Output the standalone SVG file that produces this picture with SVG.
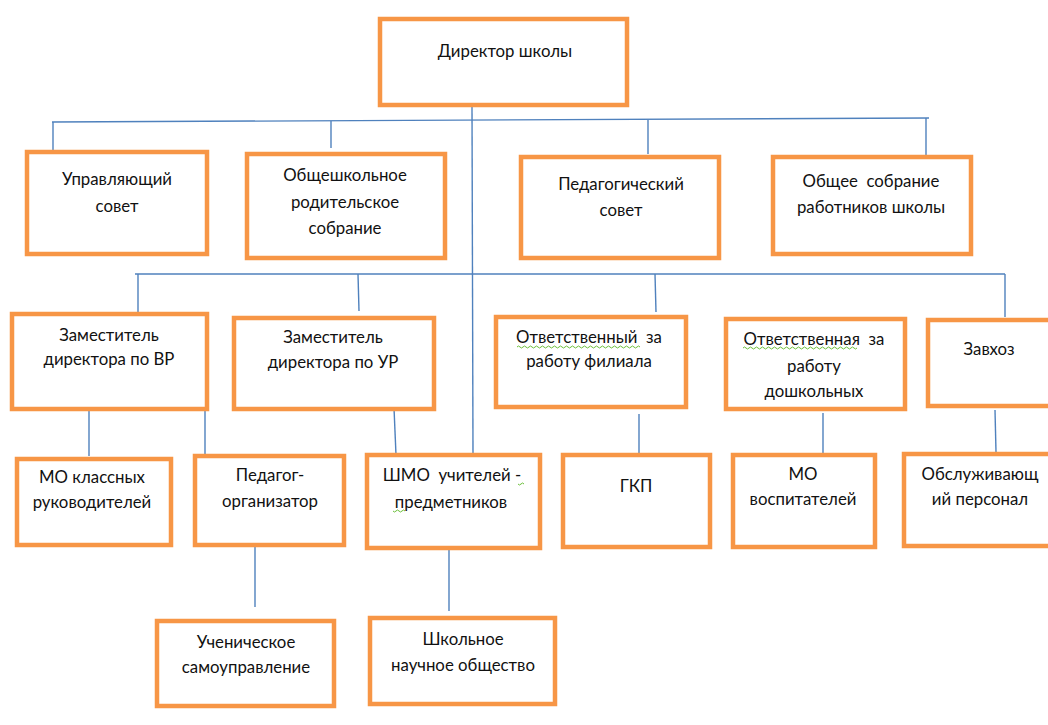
<svg xmlns="http://www.w3.org/2000/svg" width="1048" height="725" viewBox="0 0 1048 725">
<style>
.box{fill:#fff;stroke:#F79646;stroke-width:4.5}
.c{stroke:#4F81BD;stroke-width:1.4;fill:none}
text{font-family:Lato,"Liberation Sans",sans-serif;font-size:16.8px;fill:#111;text-anchor:middle}
.sq{stroke:#6BBF3A;stroke-width:1;fill:none}
</style>
<rect width="1048" height="725" fill="#fff"/>
<g id="connectors">
<line class="c" x1="472" y1="107" x2="473" y2="455"/>
<line class="c" x1="52" y1="122" x2="929" y2="118"/>
<line class="c" x1="53" y1="122" x2="53" y2="151"/>
<line class="c" x1="331" y1="121" x2="331" y2="148"/>
<line class="c" x1="648" y1="120" x2="648" y2="154"/>
<line class="c" x1="926" y1="118" x2="926" y2="156"/>
<line class="c" x1="135" y1="274" x2="1005" y2="274"/>
<line class="c" x1="138" y1="274" x2="138" y2="312"/>
<line class="c" x1="358" y1="274" x2="359" y2="311"/>
<line class="c" x1="655" y1="274" x2="656" y2="312"/>
<line class="c" x1="1005" y1="274" x2="1005" y2="317"/>
<line class="c" x1="89" y1="411" x2="89" y2="456"/>
<line class="c" x1="205" y1="411" x2="205" y2="455"/>
<line class="c" x1="394" y1="408" x2="396" y2="455"/>
<line class="c" x1="639" y1="414" x2="639" y2="456"/>
<line class="c" x1="823" y1="413" x2="823" y2="454"/>
<line class="c" x1="995" y1="410" x2="996" y2="452"/>
<line class="c" x1="255" y1="547" x2="255" y2="607"/>
<line class="c" x1="449" y1="550" x2="449" y2="611"/>
</g>
<g id="n-director"><rect class="box" x="380" y="19" width="247" height="86"/><text x="505" y="57">Директор школы</text></g>
<g id="n-upr"><rect class="box" x="27" y="152" width="180" height="102"/><text x="117" y="185">Управляющий</text><text x="117" y="212">совет</text></g>
<g id="n-obsh-rod"><rect class="box" x="247" y="154" width="198" height="104"/><text x="345" y="181">Общешкольное</text><text x="345" y="208">родительское</text><text x="345" y="234">собрание</text></g>
<g id="n-ped-sovet"><rect class="box" x="521" y="157" width="198" height="101"/><text x="621" y="190">Педагогический</text><text x="621" y="216">совет</text></g>
<g id="n-obsh-sobr"><rect class="box" x="773" y="157" width="198" height="97"/><text x="871" y="187" xml:space="preserve">Общее  собрание</text><text x="871" y="213">работников школы</text></g>
<g id="n-zam-vr"><rect class="box" x="12" y="314" width="195" height="95"/><text x="109" y="341">Заместитель</text><text x="109" y="365">директора по ВР</text></g>
<g id="n-zam-ur"><rect class="box" x="234" y="318" width="200" height="91"/><text x="333" y="343">Заместитель</text><text x="333" y="368">директора по УР</text></g>
<g id="n-otv-fil"><rect class="box" x="496" y="317" width="190" height="90"/><text x="589" y="343" xml:space="preserve">Ответственный  за</text><text x="589" y="367">работу филиала</text><path class="sq" d="M517 347 q1.5 -2 3 0 t3 0 t3 0 t3 0 t3 0 t3 0 t3 0 t3 0 t3 0 t3 0 t3 0 t3 0 t3 0 t3 0 t3 0 t3 0 t3 0 t3 0 t3 0 t3 0 t3 0 t3 0 t3 0 t3 0 t3 0 t3 0 t3 0 t3 0 t3 0 t3 0 t3 0 t3 0 t3 0 t3 0 t3 0 t3 0 t3 0 t3 0 t3 0 t3 0 t3 0"/></g>
<g id="n-otv-dosh"><rect class="box" x="726" y="319" width="179" height="90"/><text x="814" y="345" xml:space="preserve">Ответственная  за</text><text x="814" y="372">работу</text><text x="814" y="397">дошкольных</text><path class="sq" d="M743 348 q1.5 -2 3 0 t3 0 t3 0 t3 0 t3 0 t3 0 t3 0 t3 0 t3 0 t3 0 t3 0 t3 0 t3 0 t3 0 t3 0 t3 0 t3 0 t3 0 t3 0 t3 0 t3 0 t3 0 t3 0 t3 0 t3 0 t3 0 t3 0 t3 0 t3 0 t3 0 t3 0 t3 0 t3 0 t3 0 t3 0 t3 0 t3 0 t3 0"/></g>
<g id="n-zavhoz"><rect class="box" x="928" y="320" width="130" height="86"/><text x="989" y="355">Завхоз</text></g>
<g id="n-mo-kl"><rect class="box" x="17" y="459" width="154" height="86"/><text x="92" y="483">МО классных</text><text x="92" y="508">руководителей</text></g>
<g id="n-ped-org"><rect class="box" x="195" y="456" width="149" height="89"/><text x="270" y="481">Педагог-</text><text x="270" y="507">организатор</text></g>
<g id="n-shmo"><rect class="box" x="367" y="455" width="173" height="93"/><text x="452" y="481" xml:space="preserve">ШМО  учителей -</text><text x="451" y="508">предметников</text><path class="sq" d="M518 484 q1.5 2 3 0 t3 0"/><path class="sq" d="M393 511 q1.5 2 3 0 t3 0 t3 0 t3 0"/></g>
<g id="n-gkp"><rect class="box" x="563" y="455" width="147" height="92"/><text x="636" y="492">ГКП</text></g>
<g id="n-mo-vosp"><rect class="box" x="733" y="455" width="142" height="92"/><text x="803" y="480">МО</text><text x="803" y="505">воспитателей</text></g>
<g id="n-obsl"><rect class="box" x="904" y="454" width="150" height="92"/><text x="980" y="480">Обслуживающ</text><text x="980" y="505">ий персонал</text></g>
<g id="n-uch"><rect class="box" x="157" y="621" width="177" height="85"/><text x="246" y="648">Ученическое</text><text x="246" y="673">самоуправление</text></g>
<g id="n-nauch"><rect class="box" x="370" y="618" width="185" height="86"/><text x="463" y="645">Школьное</text><text x="463" y="671">научное общество</text></g>
</svg>
